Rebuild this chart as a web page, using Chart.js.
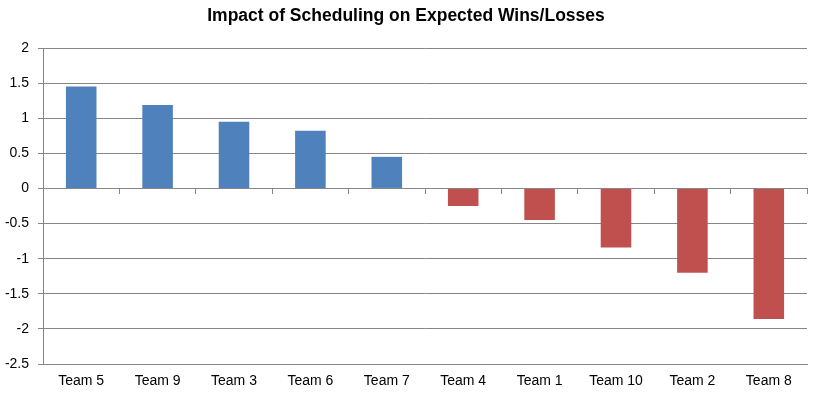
<!DOCTYPE html>
<html>
<head>
<meta charset="utf-8">
<script src="https://cdn.jsdelivr.net/npm/chart.js@4.4.1/dist/chart.umd.min.js"></script>
<style>
  html, body { margin: 0; padding: 0; background: #ffffff; }
  #wrap { width: 821px; height: 398px; position: relative; }
</style>
</head>
<body>
<div id="wrap"><canvas id="c" width="821" height="398"></canvas></div>
<script>
const categories = ["Team 5", "Team 9", "Team 3", "Team 6", "Team 7", "Team 4", "Team 1", "Team 10", "Team 2", "Team 8"];
const impactValues = [1.45, 1.19, 0.95, 0.82, 0.45, -0.25, -0.45, -0.84, -1.2, -1.86];
const chartTitle = "Impact of Scheduling on Expected Wins/Losses";
const yMin = -2.5;
const yMax = 2;
const yStep = 0.5;

const POS = "#4F81BD";
const NEG = "#C0504D";
const GRID = "#868686";
const FONT = "'Liberation Sans', Arial, sans-serif";

const barColors = impactValues.map(v => v >= 0 ? POS : NEG);

new Chart(document.getElementById("c"), {
  type: "bar",
  data: {
    labels: categories,
    datasets: [{
      data: impactValues,
      backgroundColor: barColors,
      borderWidth: 0,
      barPercentage: 0.4,
      categoryPercentage: 1.0
    }]
  },
  options: {
    responsive: false,
    animation: false,
    layout: { padding: { left: 5, right: 14, top: 0, bottom: 0 } },
    plugins: {
      legend: { display: false },
      tooltip: { enabled: false },
      title: {
        display: true,
        text: chartTitle,
        color: "#000000",
        font: { family: FONT, size: 17.5, weight: "bold" },
        padding: { top: 6, bottom: 21 }
      }
    },
    scales: {
      x: {
        type: "category",
        position: "bottom",
        offset: true,
        grid: { display: false, drawTicks: false, tickLength: 0 },
        border: { display: true, color: GRID, width: 1 },
        ticks: {
          color: "#000000",
          font: { family: FONT, size: 14 },
          padding: 9,
          maxRotation: 0,
          autoSkip: false
        },
        afterFit: (scale) => { scale.height = 34; }
      },
      x2: {
        type: "category",
        labels: categories,
        position: { y: 0 },
        offset: true,
        grid: {
          display: true,
          offset: true,
          drawOnChartArea: false,
          drawTicks: true,
          tickLength: 5,
          color: GRID
        },
        border: { display: true, color: GRID, width: 1 },
        ticks: { display: false }
      },
      y: {
        min: yMin,
        max: yMax,
        grid: { color: GRID, tickLength: 5, lineWidth: 1 },
        border: { display: true, color: GRID, width: 1 },
        ticks: {
          stepSize: yStep,
          color: "#000000",
          font: { family: FONT, size: 14 },
          padding: 9,
          callback: (v) => String(Math.round(v * 100) / 100)
        },
        afterFit: (scale) => { scale.width = 38; }
      }
    }
  }
});
</script>
</body>
</html>
